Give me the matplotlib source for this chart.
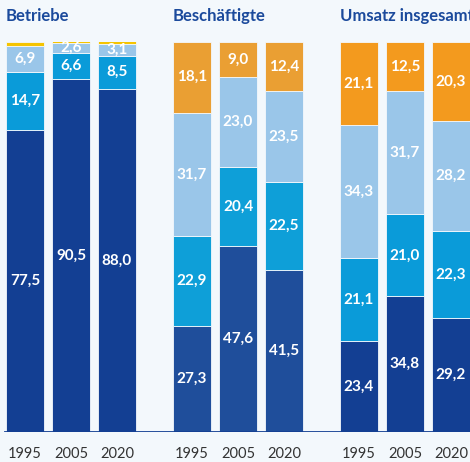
import matplotlib
matplotlib.use("Agg")
import matplotlib.pyplot as plt
import numpy as np

plt.rcParams['font.family'] = ['Lato', 'DejaVu Sans']

groups = ["Betriebe", "Beschäftigte", "Umsatz insgesamt"]
years = ["1995", "2005", "2020"]

# shares per segment (bottom -> top), per group, per year
seg_dark = [[77.5, 90.5, 88.0], [27.3, 47.6, 41.5], [23.4, 34.8, 29.2]]
seg_mid = [[14.7, 6.6, 8.5], [22.9, 20.4, 22.5], [21.1, 21.0, 22.3]]
seg_light = [[6.9, 2.6, 3.1], [31.7, 23.0, 23.5], [34.3, 31.7, 28.2]]
seg_top = [[0.9, 0.8, 0.8], [18.1, 9.0, 12.4], [21.1, 12.5, 20.3]]
# top segment labels shown only for the larger groups
top_labels = [[None, None, None], ["18,1", "9,0", "12,4"], ["21,1", "12,5", "20,3"]]

colors = {
    "dark": ["#133F93", "#1F4E9B", "#133F93"],
    "mid": ["#0A9BD9", "#0E9FD8", "#0A9BD9"],
    "light": ["#9AC6E9", "#9AC6E9", "#9AC6E9"],
    "top": ["#F5C400", "#EA9F33", "#F39A1E"],
}

fig = plt.figure(figsize=(4.7, 4.62), dpi=100)
fig.patch.set_facecolor("#F3F8FC")
ax = fig.add_axes([0, 30/462, 1, 390/462])
ax.set_facecolor("#F3F8FC")

unit = 46.0
group_offset = 167/46.0
width = 38/46.0
ax.set_xlim(-25/unit, 445/unit)
ax.set_ylim(0, 100)

def fmt(v):
    return f"{v:.1f}".replace(".", ",")

xticks, xlabels = [], []
for g in range(3):
    for i in range(3):
        x = g * group_offset + i
        xticks.append(x)
        xlabels.append(years[i])
        bottom = 0
        for key, vals in [("dark", seg_dark), ("mid", seg_mid), ("light", seg_light), ("top", seg_top)]:
            v = vals[g][i]
            ax.bar(x, v, width=width, bottom=bottom, color=colors[key][g],
                   edgecolor="#F3F8FC", linewidth=0.6)
            if key == "top":
                lab = top_labels[g][i]
            else:
                lab = fmt(v)
            if lab is not None:
                ax.text(x, bottom + v/2, lab, ha="center", va="center", color="white",
                        fontsize=11, fontweight="bold")
            bottom += v

ax.axhline(0, xmin=5/470, xmax=1, color="#133F93", lw=2, zorder=5)

ax.set_xticks(xticks)
ax.set_xticklabels(xlabels, fontsize=10.5, color="#333333")
ax.tick_params(axis="x", length=0, pad=11)
ax.set_yticks([])
for s in ax.spines.values():
    s.set_visible(False)

title_x = [6, 173, 340]
for g in range(3):
    fig.text(title_x[g]/470, 1 - 21/462, groups[g], fontsize=12, fontweight="bold",
             color="#1B4A9C", ha="left", va="baseline")

fig.savefig("out.png", dpi=100, facecolor=fig.get_facecolor())
